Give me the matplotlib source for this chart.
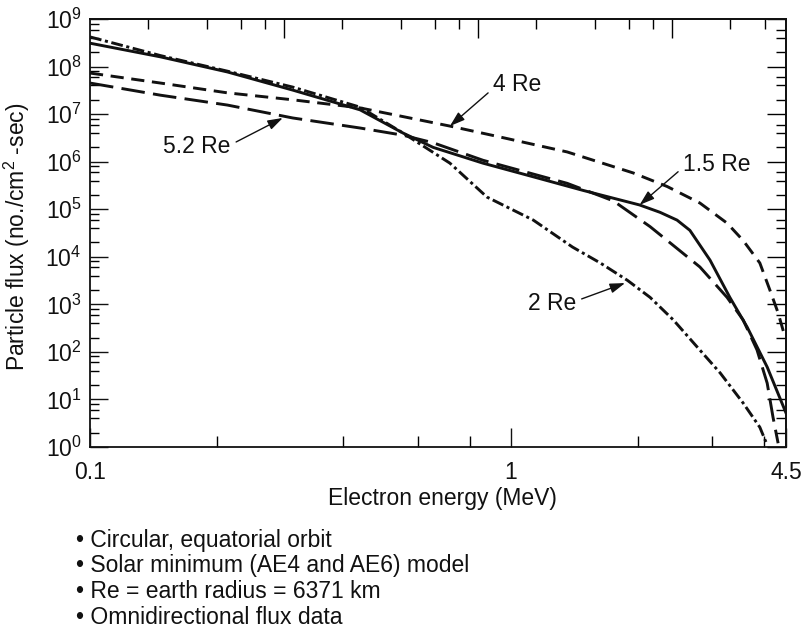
import matplotlib
matplotlib.use("Agg")
import matplotlib.pyplot as plt
from matplotlib.ticker import NullFormatter, FixedLocator

plt.rcParams["font.family"] = ["Liberation Sans", "DejaVu Sans"]
plt.rcParams["mathtext.default"] = "regular"
plt.rcParams["lines.scale_dashes"] = False

# Electron energy (MeV) and omnidirectional flux (no./cm^2-sec) for each orbit altitude
energy_1p5 = [0.1, 0.147, 0.212, 0.303, 0.438, 0.554, 0.653, 0.858, 1.13, 1.48,
              2.02, 2.26, 2.48, 2.66, 2.97, 3.31, 3.64, 4.06, 4.5]
flux_1p5 = [3.1e8, 1.6e8, 7.7e7, 3.2e7, 1.23e7, 4.0e6, 2.0e6, 9.3e5, 4.8e5, 2.5e5,
            1.23e5, 8.6e4, 5.9e4, 3.6e4, 8.5e3, 1.4e3, 330, 48, 5.2]

energy_2 = [0.1, 0.147, 0.212, 0.303, 0.438, 0.554, 0.716, 0.877, 1.13, 1.40,
            1.63, 1.89, 2.14, 2.43, 2.77, 3.14, 3.56, 3.90, 4.06]
flux_2 = [4.2e8, 1.7e8, 8.0e7, 3.7e7, 1.4e7, 4.0e6, 9.3e5, 1.8e5, 5.9e4, 1.6e4,
          7.4e3, 3.2e3, 1.4e3, 470, 126, 36, 8.4, 2.6, 1.1]

energy_4 = [0.1, 0.147, 0.212, 0.303, 0.438, 0.716, 0.942, 1.36, 1.95, 2.35,
            2.81, 3.26, 3.56, 3.90, 4.12, 4.31, 4.48]
flux_4 = [7.3e7, 4.5e7, 2.8e7, 2.0e7, 1.35e7, 5.6e6, 3.3e6, 1.6e6, 5.8e5, 3.0e5,
          1.35e5, 5.1e4, 2.2e4, 7.4e3, 2.0e3, 660, 200]

energy_5p2 = [0.1, 0.147, 0.212, 0.303, 0.438, 0.554, 0.653, 0.858, 1.36, 1.75,
              2.14, 2.35, 2.81, 3.26, 3.56, 3.84, 4.06, 4.19, 4.31]
flux_5p2 = [4.5e7, 2.5e7, 1.55e7, 8.3e6, 5.1e6, 3.6e6, 2.5e6, 1.07e6, 3.5e5, 1.5e5,
            4.3e4, 2.2e4, 6.1e3, 1.4e3, 470, 110, 22, 4.3, 1.2]

x_tick_values = [0.1, 1, 4.5]
x_tick_labels = ["0.1", "1", "4.5"]
x_minor_values = [0.2, 0.4, 0.6, 0.8, 2, 3, 4]
y_decades = list(range(0, 10))

notes = [
    "\u2022 Circular, equatorial orbit",
    "\u2022 Solar minimum (AE4 and AE6) model",
    "\u2022 Re = earth radius = 6371 km",
    "\u2022 Omnidirectional flux data",
]

W, H = 811, 630
fig = plt.figure(figsize=(W / 100, H / 100), dpi=100)
L, R, T, B = 90, 786, 19, 447
ax = fig.add_axes([L / W, 1 - B / H, (R - L) / W, (B - T) / H])
ax.set_xscale("log")
ax.set_yscale("log")
ax.set_xlim(0.1, 4.5)
ax.set_ylim(1, 1e9)

ink = "#111111"
lw = 2.1
ax.plot(energy_1p5, flux_1p5, color=ink, lw=lw, solid_joinstyle="round")
ax.plot(energy_2, flux_2, color=ink, lw=lw, dashes=(8.5, 2.6, 2.2, 2.6))
ax.plot(energy_4, flux_4, color=ink, lw=lw, dashes=(9.5, 5.5))
ax.plot(energy_5p2, flux_5p2, color=ink, lw=lw, dashes=(17, 6))

fs = 16.5
# bottom axis
ax.xaxis.set_major_locator(FixedLocator(x_tick_values))
ax.set_xticklabels(x_tick_labels)
ax.xaxis.set_minor_locator(FixedLocator(x_minor_values))
ax.xaxis.set_minor_formatter(NullFormatter())
ax.tick_params(axis="x", which="major", direction="in", length=14, width=1.0,
               labelsize=fs, pad=10, colors=ink)
ax.tick_params(axis="x", which="minor", direction="in", length=8, width=1.0)

# left axis
ax.yaxis.set_major_locator(FixedLocator([10.0 ** k for k in y_decades]))
ax.set_yticklabels([f"$10^{{{k}}}$" for k in y_decades])
ax.yaxis.set_minor_locator(FixedLocator(
    [m * 10.0 ** k for k in y_decades[:-1] for m in (2, 4, 6, 8)]))
ax.yaxis.set_minor_formatter(NullFormatter())
ax.tick_params(axis="y", which="major", direction="in", length=13, width=1.0,
               labelsize=fs, pad=6, colors=ink)
ax.tick_params(axis="y", which="minor", direction="in", length=6.5, width=1.0)

# top axis carries its own logarithmic tick scale
k = 421 / 194
top = ax.secondary_xaxis("top", functions=(lambda e: (e / 0.1) ** k,
                                           lambda v: 0.1 * v ** (1 / k)))
top.xaxis.set_major_locator(FixedLocator([10, 100, 1000]))
top.xaxis.set_minor_locator(FixedLocator(
    [2, 4, 6, 8, 20, 40, 60, 80, 200, 400, 600, 800, 2000, 3000]))
top.xaxis.set_major_formatter(NullFormatter())
top.xaxis.set_minor_formatter(NullFormatter())
top.tick_params(which="major", direction="in", length=14, width=1.0)
top.tick_params(which="minor", direction="in", length=7, width=1.0)

# right axis
right = ax.secondary_yaxis("right", functions=(lambda y: y, lambda y: y))
right.yaxis.set_major_locator(FixedLocator([10.0 ** k for k in y_decades]))
right.yaxis.set_minor_locator(FixedLocator(
    [m * 10.0 ** k for k in y_decades[:-1] for m in (2, 4, 6)]))
right.yaxis.set_major_formatter(NullFormatter())
right.yaxis.set_minor_formatter(NullFormatter())
right.tick_params(which="major", direction="in", length=14, width=1.0)
right.tick_params(which="minor", direction="in", length=7, width=1.0)

for s in ax.spines.values():
    s.set_linewidth(1.3)
    s.set_color(ink)
for s in list(top.spines.values()) + list(right.spines.values()):
    s.set_linewidth(1.3)
    s.set_color(ink)

ax.set_xlabel("Electron energy (MeV)", fontsize=fs, color=ink)
ax.xaxis.set_label_coords(0.506, -0.093)
ax.xaxis.label.set_va("top")
ax.set_ylabel("Particle flux (no./cm$^{2}$ -sec)", fontsize=fs, color=ink)
ax.yaxis.set_label_coords(-0.083, 0.49)

arrow = dict(arrowstyle="-|>,head_length=0.55,head_width=0.18", color=ink,
             lw=1.0, shrinkA=2, shrinkB=0)


def label(text, head, pos, ha, relpos):
    ax.annotate(text, xy=head, xycoords="data", xytext=pos,
                textcoords="axes fraction", ha=ha, va="center", fontsize=fs,
                color=ink, arrowprops=dict(arrow, relpos=relpos))


label("4 Re", (energy_4[5], flux_4[5]), (0.579, 0.848), "left", (0.0, 0.3))
label("5.2 Re", (0.287, 8.3e6), (0.154, 0.701), "center", (1.0, 0.6))
label("1.5 Re", (energy_1p5[10], flux_1p5[10]), (0.852, 0.661), "left", (0.0, 0.35))
label("2 Re", (1.866, 2.8e3), (0.664, 0.336), "center", (1.0, 0.6))

for i, line in enumerate(notes):
    fig.text(76 / W, 1 - (540 + 25.7 * i) / H, line, fontsize=fs, color=ink,
             ha="left", va="center")

fig.savefig("out.png", dpi=100)
